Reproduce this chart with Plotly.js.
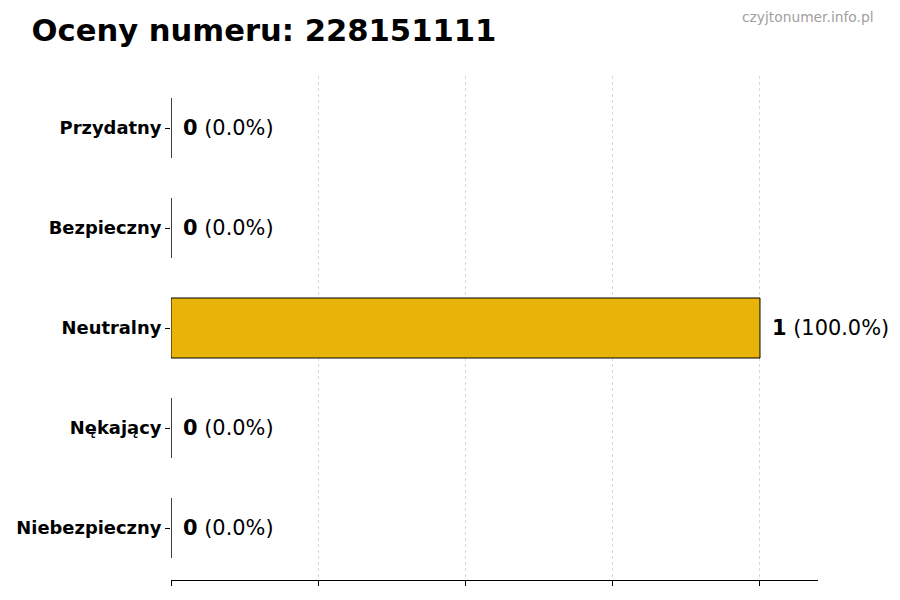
<!DOCTYPE html>
<html>
<head>
<meta charset="utf-8">
<script src="https://cdn.plot.ly/plotly-3.0.1.min.js"></script>
<style>body{margin:0;background:#fff}</style>
</head>
<body>
<div id="chart" style="width:900px;height:600px"></div>
<script>
// ratings for the number, top to bottom
var categories = ['Przydatny', 'Bezpieczny', 'Neutralny', 'Nękający', 'Niebezpieczny'];
var counts = [0, 0, 1, 0, 0];
var percents = [0.0, 0.0, 100.0, 0.0, 0.0];
var barColor = '#E8B40A';

var cats = categories.slice().reverse();
var vals = counts.slice().reverse();
var pcts = percents.slice().reverse();

var trace = {
  type: 'bar',
  orientation: 'h',
  y: cats,
  x: vals,
  width: 0.6,
  marker: {color: barColor, line: {color: '#000', width: 1}},
  hoverinfo: 'skip'
};

var annotations = [];
for (let i = 0; i < cats.length; i++) {
  annotations.push({
    x: vals[i], y: cats[i], xref: 'x', yref: 'y',
    text: '<b>' + vals[i] + '</b> (' + pcts[i].toFixed(1) + '%)',
    showarrow: false, xanchor: 'left', xshift: 10,
    font: {family: 'DejaVu Sans', size: 20.9, color: '#000'}
  });
}
annotations.push({
  xref: 'paper', yref: 'paper', x: 1.0896, y: 1.117, xanchor: 'right', yanchor: 'middle',
  text: 'czyjtonumer.info.pl', showarrow: false,
  font: {family: 'DejaVu Sans', size: 13.8, color: '#a0a0a0'}
});

var layout = {
  width: 900, height: 600,
  margin: {l: 171, r: 82, t: 76, b: 20},
  paper_bgcolor: '#fff', plot_bgcolor: '#fff',
  showlegend: false,
  title: {
    text: '<b>Oceny numeru: 228151111</b>',
    x: 0.035, xanchor: 'left', y: 0.95, yanchor: 'middle',
    font: {family: 'DejaVu Sans', size: 30.6, color: '#000'}
  },
  xaxis: {
    range: [0, 1.0985],
    tickvals: [0, 0.25, 0.5, 0.75, 1.0],
    showticklabels: false,
    ticks: 'outside', ticklen: 5, tickcolor: '#000',
    showgrid: true, gridcolor: 'rgba(0,0,0,0.15)', griddash: '3px,3px', gridwidth: 1,
    layer: 'above traces',
    zeroline: false,
    showline: true, linecolor: '#000', linewidth: 1
  },
  yaxis: {
    range: [-0.52, 4.52],
    categoryorder: 'array', categoryarray: cats,
    ticks: 'outside', ticklen: 5, tickcolor: '#000',
    showgrid: false, zeroline: false, showline: false,
    tickfont: {family: 'DejaVu Sans', size: 17.9, color: '#000', weight: 'bold'}
  },
  annotations: annotations
};

Plotly.newPlot('chart', [trace], layout, {displayModeBar: false, staticPlot: true});
</script>
</body>
</html>
